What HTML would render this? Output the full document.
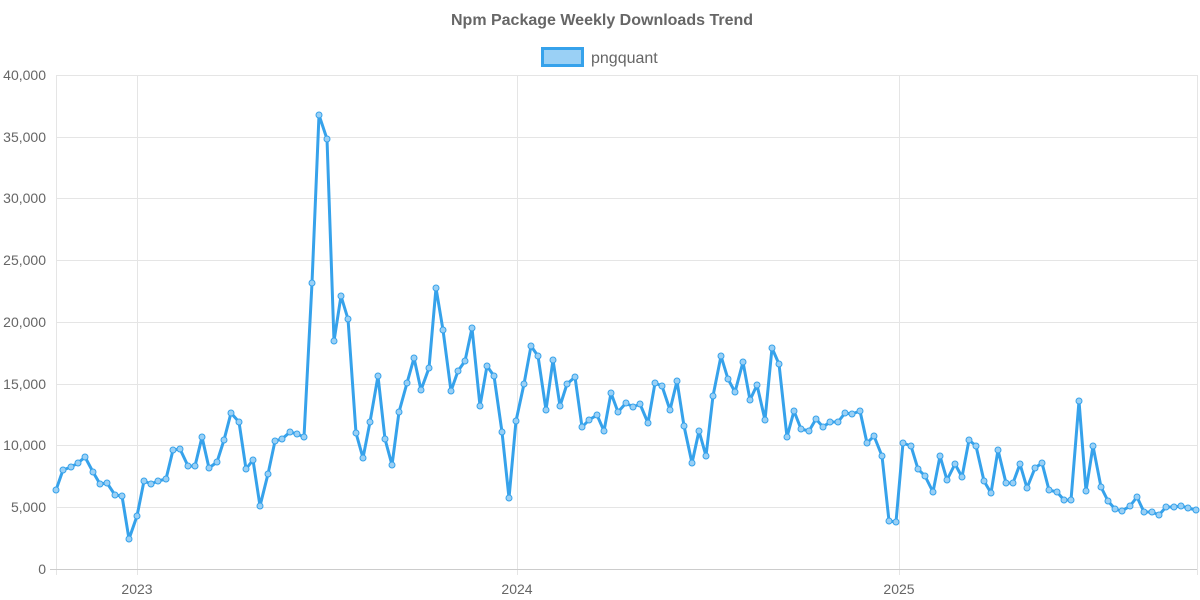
<!DOCTYPE html>
<html><head><meta charset="utf-8"><style>
html,body{margin:0;padding:0;background:#fff;}
svg{display:block;font-family:"Liberation Sans",Arial,sans-serif;}
</style></head><body>
<svg width="1200" height="600" viewBox="0 0 1200 600" xmlns="http://www.w3.org/2000/svg">
<text x="602" y="25" text-anchor="middle" font-size="16" font-weight="bold" fill="#666">Npm Package Weekly Downloads Trend</text>
<rect x="542.5" y="48.5" width="40" height="17" fill="#9ad0f5" stroke="#36a2eb" stroke-width="3"/>
<text x="591" y="63" font-size="16" fill="#666">pngquant</text>
<g stroke="#e5e5e5" stroke-width="1">
<line x1="56" x2="1197" y1="75.5" y2="75.5"/><line x1="56" x2="1197" y1="137.5" y2="137.5"/>
<line x1="56" x2="1197" y1="198.5" y2="198.5"/><line x1="56" x2="1197" y1="260.5" y2="260.5"/>
<line x1="56" x2="1197" y1="322.5" y2="322.5"/><line x1="56" x2="1197" y1="384.5" y2="384.5"/>
<line x1="56" x2="1197" y1="445.5" y2="445.5"/><line x1="56" x2="1197" y1="507.5" y2="507.5"/>
<line x1="56.5" x2="56.5" y1="75" y2="575"/><line x1="137.5" x2="137.5" y1="75" y2="575"/>
<line x1="517.5" x2="517.5" y1="75" y2="575"/><line x1="899.5" x2="899.5" y1="75" y2="575"/>
<line x1="1197.5" x2="1197.5" y1="75" y2="575"/>
</g>
<line x1="50" x2="1197" y1="569.5" y2="569.5" stroke="#ccc"/>
<g font-size="14" fill="#666" text-anchor="end">
<text x="46" y="80">40,000</text><text x="46" y="142">35,000</text><text x="46" y="203">30,000</text>
<text x="46" y="265">25,000</text><text x="46" y="327">20,000</text><text x="46" y="389">15,000</text>
<text x="46" y="450">10,000</text><text x="46" y="512">5,000</text><text x="46" y="574">0</text>
</g>
<g font-size="14" fill="#666" text-anchor="middle">
<text x="137" y="594">2023</text><text x="517" y="594">2024</text><text x="899" y="594">2025</text>
</g>
<polyline id="p" fill="none" stroke="#36a2eb" stroke-width="3" stroke-linejoin="round" points="56,490 63,470 71,467 78,463 85,457 93,472 100,484 107,483 115,495 122,496 129,539 137,516 144,481 151,484 158,481 166,479 173,450 180,449 188,466 195,466 202,437 209,468 217,462 224,440 231,413 239,422 246,469 253,460 260,506 268,474 275,441 282,439 290,432 297,434 304,437 312,283 319,115 327,139 334,341 341,296 348,319 356,433 363,458 370,422 378,376 385,439 392,465 399,412 407,383 414,358 421,390 429,368 436,288 443,330 451,391 458,371 465,361 472,328 480,406 487,366 494,376 502,432 509,498 516,421 524,384 531,346 538,356 546,410 553,360 560,406 567,384 575,377 582,427 589,420 597,415 604,431 611,393 618,412 626,403 633,407 640,404 648,423 655,383 662,386 670,410 677,381 684,426 692,463 699,431 706,456 713,396 721,356 728,379 735,392 743,362 750,400 757,385 765,420 772,348 779,364 787,437 794,411 801,429 809,431 816,419 823,427 830,422 838,422 845,413 852,414 860,411 867,443 874,436 882,456 889,521 896,522 903,443 911,446 918,469 925,476 933,492 940,456 947,480 955,464 962,477 969,440 976,446 984,481 991,493 998,450 1006,483 1013,483 1020,464 1027,488 1035,468 1042,463 1049,490 1057,492 1064,500 1071,500 1079,401 1086,491 1093,446 1101,487 1108,501 1115,509 1122,511 1130,506 1137,497 1144,512 1152,512 1159,515 1166,507 1174,507 1181,506 1188,508 1196,510"/>
<g id="dots" fill="#9ad0f5" stroke="#36a2eb" stroke-width="1"></g>
<script>
var pts=document.getElementById('p').getAttribute('points').trim().split(/\s+/);
var g=document.getElementById('dots');
pts.forEach(function(s){var a=s.split(',');var c=document.createElementNS('http://www.w3.org/2000/svg','circle');c.setAttribute('cx',a[0]);c.setAttribute('cy',a[1]);c.setAttribute('r','3');g.appendChild(c);});
</script>
</svg>
</body></html>
